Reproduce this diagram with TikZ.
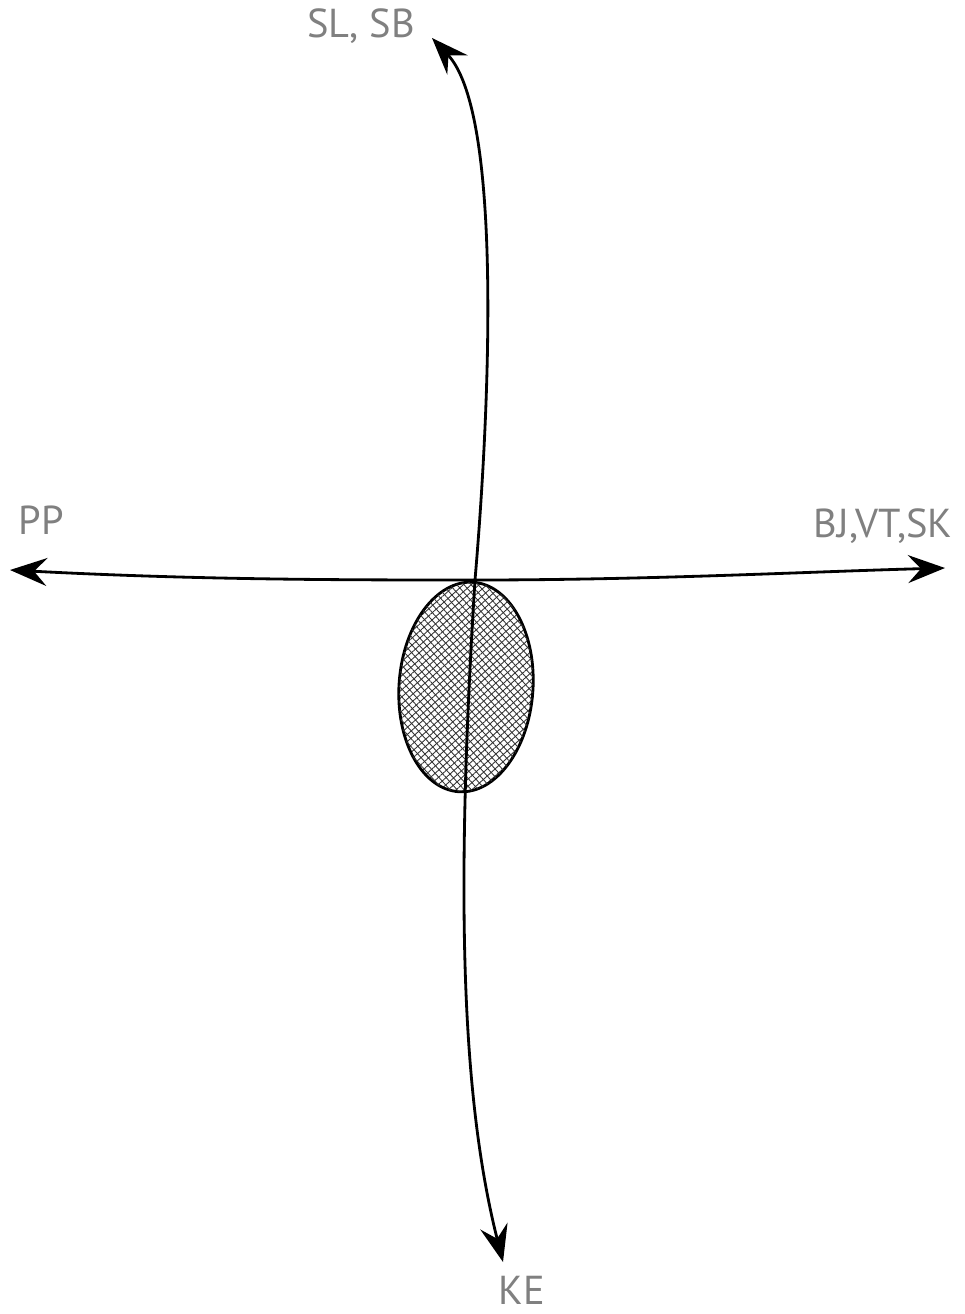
\documentclass[tikz,border=0pt]{standalone}
\usepackage{fontspec}
\setmainfont{PT Sans}
\usepackage{tikz}
\usetikzlibrary{positioning,calc,shapes.geometric,arrows.meta,patterns.meta}
\definecolor{AxisGray}{RGB}{128, 128, 128}

\tikzset{
  axislbl/.style={text=AxisGray, font=\fontsize{23}{27}\selectfont, inner sep=0pt},
  axisline/.style={line width=1.6pt, {Stealth[length=0.74cm, width=0.56cm, inset=0.26cm]}-{Stealth[length=0.74cm, width=0.56cm, inset=0.26cm]}},
  hatchblob/.style={draw, ellipse, line width=1.6pt, inner sep=0pt,
    minimum width=2.68cm, minimum height=4.2cm, rotate=-4,
    preaction={pattern={Lines[angle=42, distance=3pt, line width=0.5pt]}, pattern color=black!80},
    postaction={pattern={Lines[angle=-48, distance=3pt, line width=0.5pt]}, pattern color=black!80}}
}

\begin{document}
\begin{tikzpicture}[x=0.02cm, y=-0.02cm]
    \useasboundingbox (0,0) rectangle (964,1314);

    % Nodes
    \node [hatchblob] (blob) at (466,687) {};
    \node [axislbl] (sl) at (361,26) {SL, SB};
    \node [axislbl] (pp) at (41,520) {PP};
    \node [axislbl] (bj) at (883,526) {BJ,VT,SK};
    \node [axislbl] (ke) at (522,1290) {KE};

    \coordinate (cross) at (475,580);
    \coordinate (toptip) at (432,38);
    \coordinate (bottip) at (503,1262);
    \coordinate (lefttip) at (10,570);
    \coordinate (righttip) at (945,568);

    % Paths
    \draw [axisline] (bottip) .. controls (462,1100) and (455,900) .. (cross)
                              .. controls (492,380) and (500,110) .. (toptip);
    \draw [axisline] (lefttip) .. controls (200,580) and (350,580) .. (cross)
                               .. controls (650,580) and (800,572) .. (righttip);
\end{tikzpicture}
\end{document}
